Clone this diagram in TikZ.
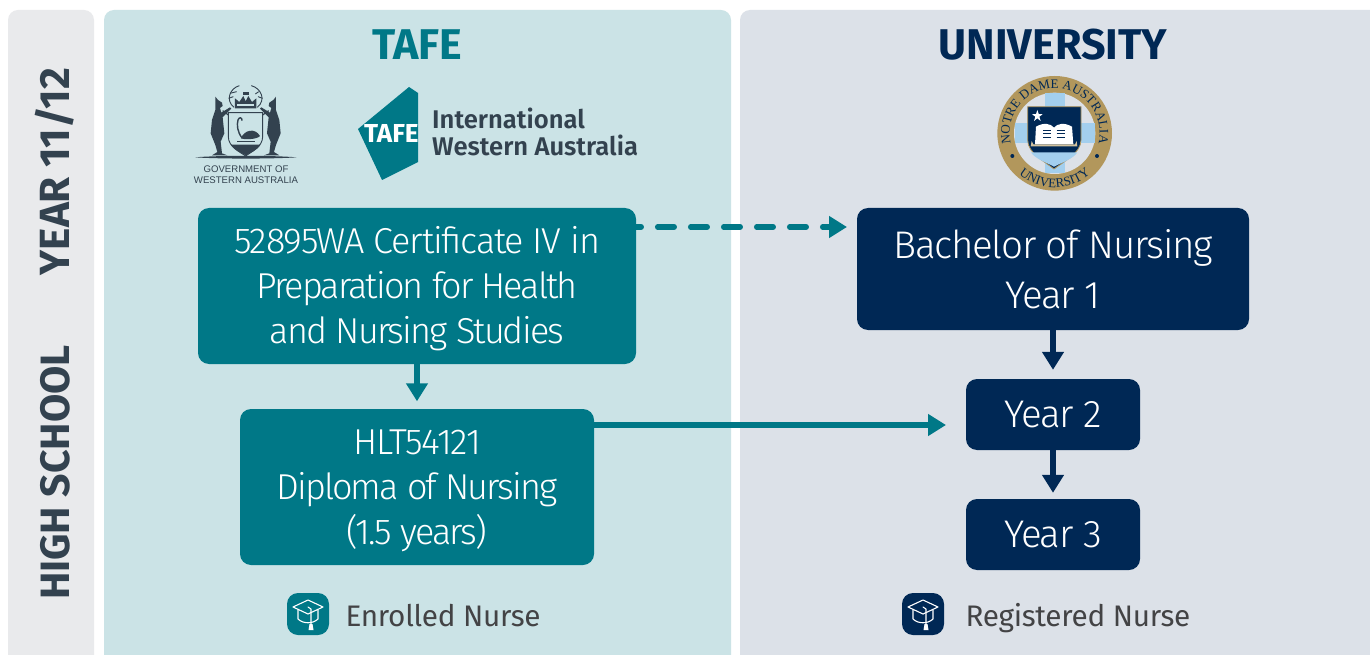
\documentclass[tikz,border=0pt]{standalone}
\usepackage{fontspec}
\setmainfont{Fira Sans Light}[BoldFont={Fira Sans Bold}]
\newfontfamily\lightf{Fira Sans Light}[LetterSpace=-3.3]
\newfontfamily\lightg{Fira Sans Light}[LetterSpace=-5.2]
\newfontfamily\medf{Fira Sans SemiBold}
\newfontfamily\regf{Fira Sans}[LetterSpace=-1]
\newfontfamily\tafef{Fira Sans Bold}
\newfontfamily\sealf{Liberation Serif}[LetterSpace=0]
\newfontfamily\sealg{Liberation Serif}[LetterSpace=18]
\newfontfamily\arialf{Liberation Sans}
\usetikzlibrary{arrows.meta,decorations.text}
\definecolor{teal1}{HTML}{007887}
\definecolor{navy1}{HTML}{002855}
\definecolor{tealbg}{HTML}{CBE3E6}
\definecolor{unibg}{HTML}{DCE1E8}
\definecolor{sidebg}{HTML}{E9EAEC}
\definecolor{sidetx}{HTML}{33424F}
\definecolor{grytx}{HTML}{434345}
\definecolor{gold1}{HTML}{B2975C}
\definecolor{sky1}{HTML}{A3CFEE}
\tikzset{
 tealbox/.style={fill=teal1,rounded corners=11pt,inner sep=0pt,text=white,align=center,font=\lightg\fontsize{36}{45}\selectfont,anchor=center},
 navybox/.style={fill=navy1,rounded corners=11pt,inner sep=0pt,text=white,align=center,anchor=center},
 tealarrow/.style={draw=teal1,line width=5.5pt,-{Triangle[length=18pt,width=21pt]}},
 navyarrow/.style={draw=navy1,line width=5.5pt,-{Triangle[length=18pt,width=21pt]}},
 sidelabel/.style={rotate=90,text=sidetx,font=\fontsize{41}{41}\selectfont\bfseries},
 heading/.style={font=\fontsize{43}{43}\selectfont\bfseries},
 footlabel/.style={anchor=base west,text=grytx,font=\regf\fontsize{29.7}{30}\selectfont},
 capline/.style={draw=white,line width=1.1pt,line join=round,line cap=round},
}
\begin{document}
\begin{tikzpicture}[x=1pt,y=-1pt]
\useasboundingbox (0,0) rectangle (1370,655);
\fill[white] (0,0) rectangle (1370,655);
% panels
\fill[sidebg] (8,655) -- (8,20) arc[start angle=180,end angle=270,radius=10] -- (84,10) arc[start angle=270,end angle=360,radius=10] -- (94,655) -- cycle;
\fill[tealbg] (104,655) -- (104,20) arc[start angle=180,end angle=270,radius=10] -- (721,10) arc[start angle=270,end angle=360,radius=10] -- (731,655) -- cycle;
\fill[unibg] (740,655) -- (740,20) arc[start angle=180,end angle=270,radius=10] -- (1370,10) -- (1370,655) -- cycle;
% side labels
\node[sidelabel,font=\fontsize{42.2}{43}\selectfont\bfseries] (yr) at (55,171.5) {YEAR 11/12};
\node[sidelabel] (hs) at (55,472.5) {HIGH SCHOOL};
% headings
\node[heading,text=teal1] (tafe) at (417,45) {TAFE};
\node[heading,text=navy1] (uni) at (1053,45) {UNIVERSITY};
% WA crest
\begin{scope}[shift={(180,70)},x=.3333pt,y=-.3333pt]
 \fill[sidetx] (45,262) .. controls (120,256) and (275,256) .. (350,262) .. controls (275,267) and (120,267) .. (45,262) -- cycle;
 \fill[sidetx] (106,80) -- (114,90) -- (126,98) -- (128,108) -- (120,114) -- (124,128) -- (150,112) -- (154,116) -- (128,142) -- (133,190) -- (122,215) -- (126,250) -- (142,256) -- (96,256) -- (112,246) -- (106,225) -- (92,190) -- (96,150) -- (106,120) -- cycle;
 \fill[sidetx] (288,80) -- (280,90) -- (268,98) -- (266,108) -- (274,114) -- (270,128) -- (244,112) -- (240,116) -- (266,142) -- (261,190) -- (272,215) -- (268,250) -- (252,256) -- (298,256) -- (282,246) -- (288,225) -- (302,190) -- (298,150) -- (288,120) -- cycle;
 \filldraw[fill=tealbg,draw=sidetx,line width=.9pt] (145,128) -- (248,128) -- (248,200) .. controls (248,230) and (215,245) .. (197,258) .. controls (178,245) and (145,230) .. (145,200) -- cycle;
 \fill[sidetx] (152,224) -- (242,224) .. controls (232,240) and (212,248) .. (197,256) .. controls (182,248) and (162,240) .. (152,224) -- cycle;
 \fill[sidetx] (170,212) -- (226,212) -- (226,217) -- (170,217) -- cycle;
 \fill[sidetx] (183,205) .. controls (192,180) and (225,172) .. (240,198) .. controls (232,208) and (195,210) .. (183,205) -- cycle;
 \draw[sidetx,line width=1.4pt] (186,204) .. controls (172,185) and (170,165) .. (174,150) .. controls (177,140) and (187,142) .. (186,152);
 \fill[sidetx] (165,115) -- (165,85) -- (178,96) -- (190,78) -- (197,94) -- (205,78) -- (216,96) -- (229,85) -- (229,115) -- cycle;
 \fill[tealbg] (172,102) -- (222,102) -- (222,107) -- (172,107) -- cycle;
 \fill[sidetx] (188,66) -- (206,66) -- (206,76) -- (188,76) -- cycle;
 \draw[sidetx,line width=.9pt] (162,112) .. controls (135,90) and (150,55) .. (178,47);
 \draw[sidetx,line width=.9pt] (232,112) .. controls (259,90) and (244,55) .. (214,47);
 \draw[sidetx,line width=.9pt] (150,70) -- (170,65) (146,85) -- (160,80) (236,65) -- (226,72) (248,85) -- (234,80);
 \draw[sidetx,line width=1.2pt] (128,122) -- (145,135) (266,122) -- (248,135);
\end{scope}
\node[font=\arialf\fontsize{9.6}{11.2}\selectfont,text=sidetx,align=center,inner sep=0pt] (govt) at (246,174.5) {GOVERNMENT OF\\WESTERN AUSTRALIA};
% TAFE logo
\begin{scope}
 \clip (340,80) rectangle (418,190);
 \fill[teal1] (409,87) -- (418,93) -- (418,162) -- (382,180) -- (358,129) -- cycle;
 \node[font=\tafef\fontsize{26}{26}\selectfont,text=white,inner sep=0pt,anchor=west] (tf) at (364,133) {TAFE};
\end{scope}
\node[font=\medf\fontsize{25.6}{27}\selectfont,text=sidetx,align=left,inner sep=0pt,anchor=west] (tw) at (432,131.5) {International\\Western Australia};
% seal
\begin{scope}[shift={(980,65)},x=.3333pt,y=-.3333pt]
 \fill[gold1] (224,205) circle[radius=172];
 \fill[unibg] (224,205) circle[radius=122];
 \fill[sky1] (194,85) rectangle (254,325);
 \fill[sky1] (104,175) rectangle (344,235);
 \filldraw[fill=navy1,draw=gold1,line width=.8pt] (143,125) -- (303,125) -- (303,225) .. controls (303,265) and (250,290) .. (222,312) .. controls (195,290) and (143,265) .. (143,225) -- cycle;
 \fill[white] (168,185) .. controls (190,172) and (212,175) .. (222,188) .. controls (232,175) and (254,172) .. (276,185) -- (280,238) -- (165,238) -- cycle;
 \fill[gold1!60!white] (160,238) -- (285,238) -- (290,228) -- (292,244) -- (152,244) -- (155,228) -- cycle;
 \fill[sky1] (153,262) -- (292,262) .. controls (280,282) and (240,295) .. (222,305) .. controls (205,295) and (165,282) .. (153,262) -- cycle;
 \fill[white] (172,135) -- (176,147) -- (188,148) -- (178,155) -- (182,168) -- (172,160) -- (162,168) -- (166,155) -- (156,148) -- (168,147) -- cycle;
 \draw[navy1,line width=.4pt] (190,196) -- (214,196) (190,206) -- (214,206) (190,216) -- (214,216) (230,196) -- (254,196) (230,206) -- (254,206) (230,216) -- (254,216);
 \path[decorate,decoration={text along path,text align=center,text color=navy1,text={|\fontsize{13}{13}\selectfont\sealf|NOTRE DAME AUSTRALIA}}] (224,205) ++(145:135) arc[start angle=145,end angle=395,radius=135];
 \path[decorate,decoration={text along path,text align=center,text color=navy1,text={|\fontsize{13}{13}\selectfont\sealg|UNIVERSITY}}] (224,205) ++(165:163) arc[start angle=165,end angle=15,radius=163];
 \fill[navy1] (97,273) circle[radius=6] (351,273) circle[radius=6];
\end{scope}
% boxes
\node[tealbox,minimum width=438pt,minimum height=156pt] (cert) at (417,286) {\rule{0pt}{33pt}{\lightf 52895WA Certificate IV in}\\Preparation for Health\\and Nursing Studies};
\node[tealbox,minimum width=354pt,minimum height=156pt] (dip) at (417,487) {\rule{0pt}{33pt}{\lightf HLT54121}\\Diploma of Nursing\\(1.5 years)};
\node[navybox,minimum width=392pt,minimum height=122pt,font=\lightf\fontsize{38.5}{50}\selectfont] (bach) at (1053,269) {Bachelor of Nursing\\Year 1};
\node[navybox,minimum width=174pt,minimum height=71pt,font=\lightf\fontsize{38.5}{38}\selectfont] (y2) at (1053,414.5) {Year 2};
\node[navybox,minimum width=174pt,minimum height=71pt,font=\lightf\fontsize{38.5}{38}\selectfont] (y3) at (1053,534.5) {Year 3};
% connectors
\coordinate (ds) at (cert.east |- 0,227);
\coordinate (de) at (847,227);
\coordinate (ss) at (dip.east |- 0,425);
\coordinate (se) at (946,425);
\draw[tealarrow,line cap=round,dash pattern=on 16.5pt off 16.5pt,dash phase=11.5pt] (ds) -- (de);
\draw[tealarrow] (ss) -- (se);
\draw[tealarrow,shorten >=7.5pt] (cert) -- (dip);
\draw[navyarrow,shorten >=9pt] (bach) -- (y2);
\draw[navyarrow,shorten >=6pt] (y2) -- (y3);
% footer icons
\foreach \nm/\cx/\col in {ia/308/teal1,ib/923/navy1}{
 \node[fill=\col,minimum size=42pt,inner sep=0pt,rounded corners=11pt] (\nm) at (\cx,614) {};
 \begin{scope}[shift={(\cx,614)}]
  \draw[capline] (-15,-7) -- (0,-14) -- (15,-7) -- (0,0) -- cycle;
  \draw[capline] (-10,-4) -- (-10,5) .. controls (-5,10) and (5,10) .. (10,5) -- (10,-4);
  \draw[capline] (0,-7) -- (3,-5) -- (3,10);
  \fill[white] (1.5,10) -- (4.5,10) -- (5.5,16) -- (.5,16) -- cycle;
 \end{scope}
}
\node[footlabel] (en) at (342,626) {Enrolled Nurse};
\node[footlabel] (rn) at (962,626) {Registered Nurse};
\end{tikzpicture}
\end{document}
